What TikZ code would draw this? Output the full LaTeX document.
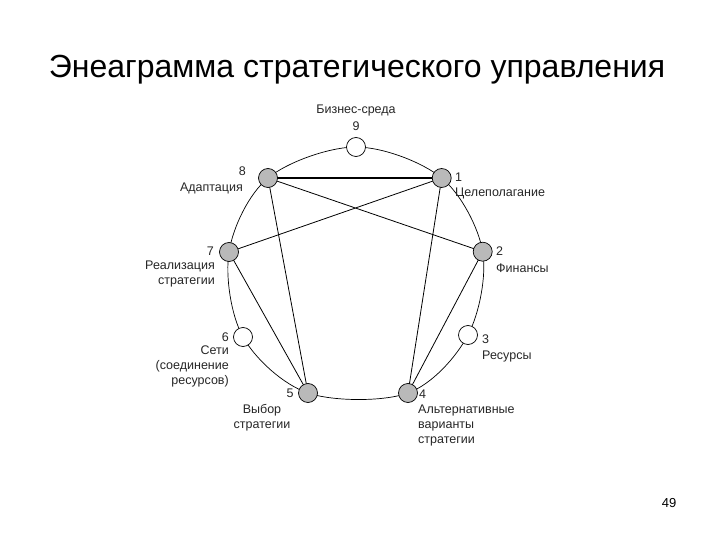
\documentclass[tikz,border=0pt]{standalone}
\usepackage{fontspec}
\setmainfont{Liberation Sans}
\begin{document}
\begin{tikzpicture}[x=1pt,y=-1pt,
  pt/.style={circle,draw,line width=0.7pt,minimum size=19pt,inner sep=0pt,fill=gray!55},
  ept/.style={pt,fill=white},
  lab/.style={font=\fontsize{12.5}{15}\selectfont,inner sep=0pt,text=black!85},
  ln/.style={line width=0.8pt}]
\useasboundingbox (0,0) rectangle (720,540);
\node[font=\fontsize{32}{36}\selectfont] (title) at (357,70) {Энеаграмма стратегического управления};
\node[font=\fontsize{13}{14}\selectfont] (pg) at (669,503) {49};
\draw[line width=0.7pt] plot[smooth cycle,tension=0.55] coordinates{(356,147)(441.7,178)(482.7,251.7)(468,335)(408,393)(308,393)(243,337)(229,252)(268,178)};
\coordinate (c1) at (441.7,178); \coordinate (c2) at (482.7,251.7);
\coordinate (c4) at (408,393); \coordinate (c5) at (308,393);
\coordinate (c7) at (229,252); \coordinate (c8) at (268,178);
\draw[line width=1.5pt] (c8)--(c1);
\draw[ln] (c8)--(c2) (c1)--(c7) (c8)--(c5) (c7)--(c5) (c1)--(c4) (c2)--(c4);
\node[ept] (n9) at (356,147) {};
\node[pt] (n1) at (c1) {};
\node[pt] (n2) at (c2) {};
\node[ept] (n3) at (468,335) {};
\node[pt] (n4) at (c4) {};
\node[pt] (n5) at (c5) {};
\node[ept] (n6) at (243,337) {};
\node[pt] (n7) at (c7) {};
\node[pt] (n8) at (c8) {};
\node[lab] (l9) at (356,110) {Бизнес-среда};
\node[lab] (l9n) at (356,126) {9};
\node[lab,anchor=west] (l1n) at (455,177) {1};
\node[lab,anchor=west] (l1) at (455,193) {Целеполагание};
\node[lab,anchor=west] (l2n) at (496,251) {2};
\node[lab,anchor=west] (l2) at (496,268) {Финансы};
\node[lab,anchor=west] (l3n) at (482,339) {3};
\node[lab,anchor=west] (l3) at (482,356) {Ресурсы};
\node[lab,anchor=west] (l4n) at (419,394) {4};
\node[lab,anchor=north west,align=left] (l4) at (418,405) {Альтернативные\\варианты\\стратегии};
\node[lab] (l5n) at (290,393) {5};
\node[lab,anchor=north,align=center] (l5) at (262,404) {Выбор\\стратегии};
\node[lab,anchor=east] (l8n) at (246,171) {8};
\node[lab,anchor=east] (l8) at (243,188) {Адаптация};
\node[lab,anchor=east] (l7n) at (214,251) {7};
\node[lab,anchor=north east,align=right] (l7) at (215,261) {Реализация\\стратегии};
\node[lab,anchor=east] (l6n) at (229,337) {6};
\node[lab,anchor=north east,align=right] (l6) at (229,346) {Сети\\(соединение\\ресурсов)};
\end{tikzpicture}
\end{document}
